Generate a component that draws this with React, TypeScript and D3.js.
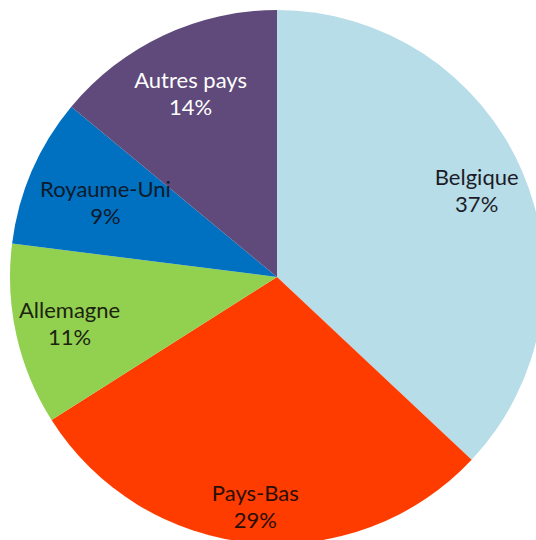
import React from 'react';
import * as d3 from 'd3';

const countries = ['Belgique', 'Pays-Bas', 'Allemagne', 'Royaume-Uni', 'Autres pays'];
const shares = [37, 29, 11, 9, 14];
const colors = ['#b7dde8', '#fe3c00', '#92d050', '#0070c0', '#604a7b'];
const textColors = ['#1c1c28', '#2a0e08', '#1c2410', '#0f1a2a', '#ffffff'];

const width = 536;
const height = 540;
const cx = 277;
const cy = 277;
const radius = 267;
// "best fit" style label distance from the centre, as a share of the radius
const labelRadii = [0.815, 0.864, 0.796, 0.7, 0.76];

const App = () => {
    const data = countries.map((name, i) => ({ name, value: shares[i], color: colors[i], text: textColors[i] }));

    const pie = d3.pie<any>()
        .sort(null)
        .value((d) => d.value);

    const slices = pie(data);

    const arc = d3.arc<any>()
        .innerRadius(0)
        .outerRadius(radius);

    return (
        <svg width={width} height={height} style={{ position: 'absolute', left: 0, top: 0, background: '#fff' }}>
            <g transform={`translate(${cx},${cy})`}>
                {slices.map((d, i) => (
                    <path key={i} d={arc(d) as string} fill={d.data.color} />
                ))}
                {slices.map((d, i) => {
                    const r = radius * labelRadii[i];
                    const [x, y] = d3.arc<any>().innerRadius(r).outerRadius(r).centroid(d);
                    return (
                        <text key={'t' + i} x={x} y={y} textAnchor="middle"
                            fontFamily="Lato, 'Open Sans', sans-serif" fontSize={22} fill={d.data.text}>
                            <tspan x={x} dy="-0.25em">{d.data.name}</tspan>
                            <tspan x={x} dy="1.23em">{d.data.value}%</tspan>
                        </text>
                    );
                })}
            </g>
        </svg>
    );
};

export default App;
